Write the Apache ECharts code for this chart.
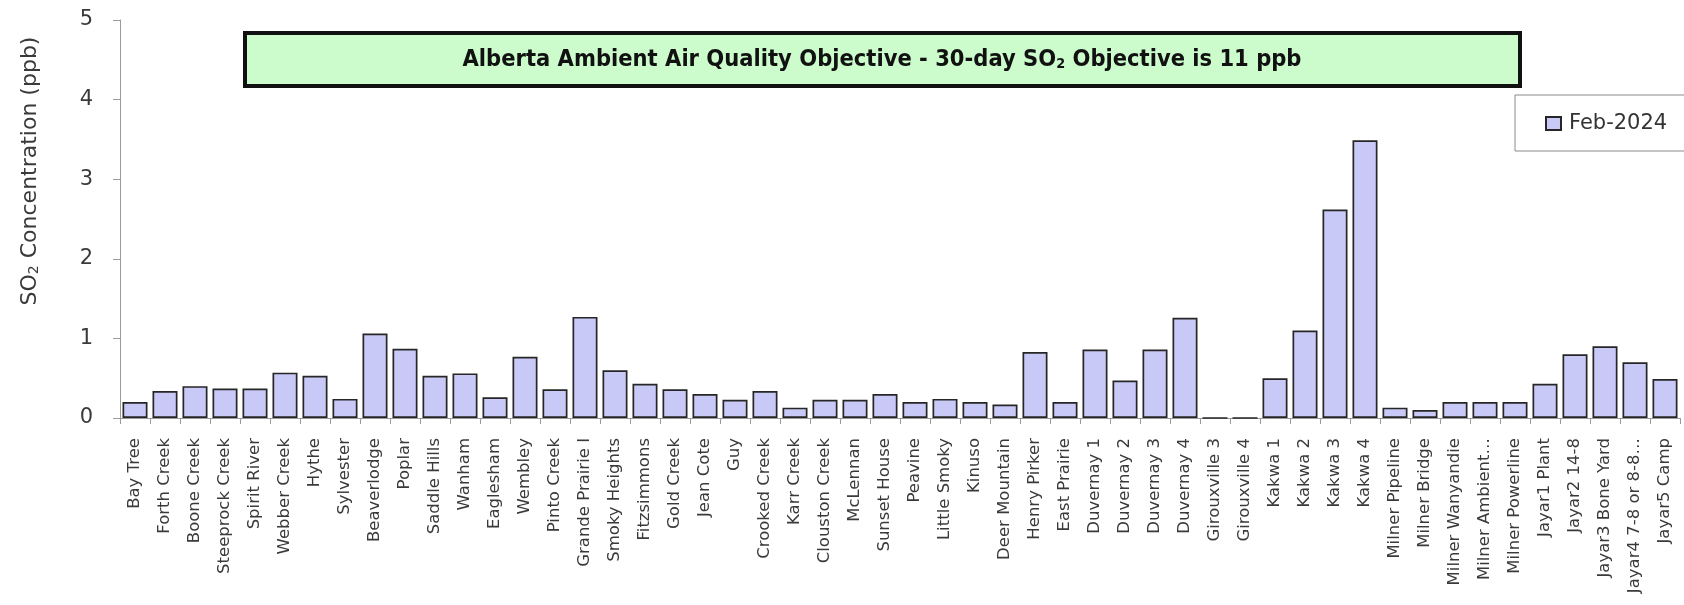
<!DOCTYPE html>
<html>
<head>
<meta charset="utf-8">
<script src="https://cdn.jsdelivr.net/npm/echarts@6/dist/echarts.min.js"></script>
<style>
  html, body { margin: 0; padding: 0; background: #fff; }
  #chart { width: 1684px; height: 605px; }
</style>
</head>
<body>
<div id="chart"></div>
<script>
// Monthly mean SO2 concentration by monitoring station
const stations = [
  'Bay Tree', 'Forth Creek', 'Boone Creek', 'Steeprock Creek', 'Spirit River',
  'Webber Creek', 'Hythe', 'Sylvester', 'Beaverlodge', 'Poplar',
  'Saddle Hills', 'Wanham', 'Eaglesham', 'Wembley', 'Pinto Creek',
  'Grande Prairie I', 'Smoky Heights', 'Fitzsimmons', 'Gold Creek', 'Jean Cote',
  'Guy', 'Crooked Creek', 'Karr Creek', 'Clouston Creek', 'McLennan',
  'Sunset House', 'Peavine', 'Little Smoky', 'Kinuso', 'Deer Mountain',
  'Henry Pirker', 'East Prairie', 'Duvernay 1', 'Duvernay 2', 'Duvernay 3',
  'Duvernay 4', 'Girouxville 3', 'Girouxville 4', 'Kakwa 1', 'Kakwa 2',
  'Kakwa 3', 'Kakwa 4', 'Milner Pipeline', 'Milner Bridge', 'Milner Wanyandie',
  'Milner Ambient…', 'Milner Powerline', 'Jayar1 Plant', 'Jayar2 14-8', 'Jayar3 Bone Yard',
  'Jayar4 7-8 or 8-8…', 'Jayar5 Camp'
];

const feb2024 = [
  0.20, 0.34, 0.40, 0.37, 0.37,
  0.57, 0.53, 0.24, 1.06, 0.87,
  0.53, 0.56, 0.26, 0.77, 0.36,
  1.27, 0.60, 0.43, 0.36, 0.30,
  0.23, 0.34, 0.13, 0.23, 0.23,
  0.30, 0.20, 0.24, 0.20, 0.17,
  0.83, 0.20, 0.86, 0.47, 0.86,
  1.26, 0, 0, 0.50, 1.10,
  2.62, 3.49, 0.13, 0.10, 0.20,
  0.20, 0.20, 0.43, 0.80, 0.90,
  0.70, 0.49
];

const yTicks = [0, 1, 2, 3, 4, 5];
const seriesName = 'Feb-2024';
const objectiveText = 'Alberta Ambient Air Quality Objective - 30-day SO';
const objectiveTail = ' Objective is 11 ppb';

const chart = echarts.init(document.getElementById('chart'), null, { renderer: 'canvas' });

chart.setOption({
  backgroundColor: '#ffffff',
  animation: false,
  grid: { left: 120, right: 4, top: 20, bottom: 187, containLabel: false },
  legend: {
    data: [{ name: seriesName, icon: 'rect' }],
    left: 1515,
    top: 95,
    orient: 'vertical',
    padding: [18, 60, 17, 30],
    itemWidth: 15,
    itemHeight: 13,
    itemGap: 6,
    backgroundColor: '#ffffff',
    borderColor: '#8a8a8a',
    borderWidth: 1,
    textStyle: { fontFamily: 'DejaVu Sans', fontSize: 21, color: '#333', padding: [0, 0, 0, 3] }
  },
  xAxis: {
    type: 'category',
    data: stations,
    axisLine: { lineStyle: { color: '#9a9a9a', width: 1 } },
    axisTick: { show: true, length: 6, interval: 0, lineStyle: { color: '#9a9a9a' } },
    axisLabel: {
      interval: 0,
      rotate: 90,
      margin: 20,
      fontFamily: 'DejaVu Sans',
      fontSize: 16.5,
      color: '#3a3a3a'
    }
  },
  yAxis: {
    type: 'value',
    min: yTicks[0],
    max: yTicks[yTicks.length - 1],
    interval: 1,
    splitLine: { show: false },
    axisLine: { show: true, lineStyle: { color: '#9a9a9a', width: 1 } },
    axisTick: { show: true, length: 7, lineStyle: { color: '#9a9a9a' } },
    axisLabel: {
      margin: 27,
      fontFamily: 'DejaVu Sans',
      fontSize: 21,
      color: '#3a3a3a'
    }
  },
  series: [{
    name: seriesName,
    type: 'bar',
    data: feb2024,
    barWidth: 25,
    itemStyle: {
      color: '#c9c9f7',
      borderColor: '#262626',
      borderWidth: 1.7
    }
  }],
  graphic: [
    {
      type: 'rect',
      shape: { x: 245, y: 33, width: 1275, height: 53 },
      style: { fill: '#ccfccc', stroke: '#111111', lineWidth: 4 },
      z: 10
    },
    {
      type: 'text',
      x: 882,
      y: 60,
      scaleX: 1.02,
      z: 11,
      style: {
        text: '{t|' + objectiveText + '}{s|2}{t|' + objectiveTail + '}',
        align: 'center',
        verticalAlign: 'middle',
        rich: {
          t: { fontFamily: 'DejaVu Sans Condensed', fontWeight: 'bold', fontSize: 23, fill: '#111' },
          s: { fontFamily: 'DejaVu Sans Condensed', fontWeight: 'bold', fontSize: 14, fill: '#111', padding: [9, 0, 0, 0] }
        }
      }
    },
    {
      type: 'text',
      x: 30,
      y: 171,
      rotation: Math.PI / 2,
      z: 11,
      style: {
        text: '{t|SO}{s|2}{t| Concentration (ppb)}',
        align: 'center',
        verticalAlign: 'middle',
        rich: {
          t: { fontFamily: 'DejaVu Sans', fontSize: 22, fill: '#3a3a3a' },
          s: { fontFamily: 'DejaVu Sans', fontSize: 14, fill: '#3a3a3a', padding: [9, 0, 0, 0] }
        }
      }
    }
  ]
});
</script>
</body>
</html>
